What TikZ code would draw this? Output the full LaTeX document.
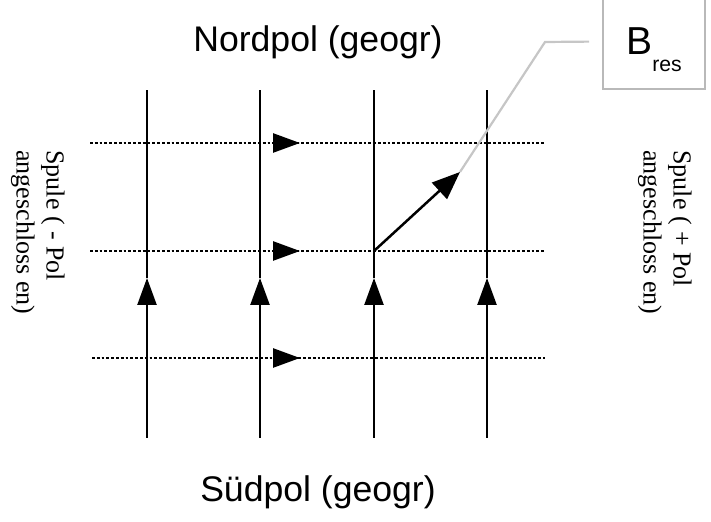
\documentclass[tikz,border=0pt]{standalone}
\usepackage{fontspec}
\setmainfont{Liberation Sans}
\newfontfamily\timesfont{Liberation Serif}
\usetikzlibrary{arrows.meta}
\begin{document}
\begin{tikzpicture}
    [x=0.5pt,y=-0.5pt,
     field/.style={line width=1.25pt},
     flux/.style={line width=1.3pt,dash pattern=on 1.4pt off 1pt},
     tip/.style={-{Triangle[length=13.5pt,width=9.5pt]}},
     pole/.style={font=\fontsize{17.8}{21}\selectfont},
     coil/.style={font=\timesfont\fontsize{13}{15}\selectfont,rotate=-90,
       align=left,anchor=north west,inner sep=0pt}]
    \useasboundingbox (0,0) rectangle (711,522);
    % pole labels
    \node (nord) at (318,42) [pole] {Nordpol (geogr)};
    \node (sued) at (318,492) [pole] {Südpol (geogr)};
    \node (minus) at (65,150) [coil] {Spule ( - Pol\\angeschloss en)};
    \node (plus) at (692,150) [coil] {Spule ( + Pol\\angeschloss en)};
    % earth field, south to north
    \coordinate (s1) at (147,438); \coordinate (m1) at (147,278); \coordinate (n1) at (147,90);
    \coordinate (s2) at (260,438); \coordinate (m2) at (260,278); \coordinate (n2) at (260,90);
    \coordinate (s3) at (374,438); \coordinate (m3) at (374,278); \coordinate (n3) at (374,90);
    \coordinate (s4) at (487,438); \coordinate (m4) at (487,278); \coordinate (n4) at (487,90);
    \draw [field,tip] (s1) to (m1); \draw [field] (m1) to (n1);
    \draw [field,tip] (s2) to (m2); \draw [field] (m2) to (n2);
    \draw [field,tip] (s3) to (m3); \draw [field] (m3) to (n3);
    \draw [field,tip] (s4) to (m4); \draw [field] (m4) to (n4);
    % coil field, minus to plus
    \coordinate (w1) at (90,143); \coordinate (a1) at (300,143); \coordinate (e1) at (545,143);
    \coordinate (w2) at (90,251); \coordinate (a2) at (300,251); \coordinate (e2) at (545,251);
    \coordinate (w3) at (92,358); \coordinate (a3) at (300,358); \coordinate (e3) at (545,358);
    \draw [flux] (w1) to (e1); \draw [flux,tip] (w1) to (a1);
    \draw [flux] (w2) to (e2); \draw [flux,tip] (w2) to (a2);
    \draw [flux] (w3) to (e3); \draw [flux,tip] (w3) to (a3);
    % resulting field
    \coordinate (origin) at (374,251);
    \coordinate (bres) at (460,172);
    \coordinate (knick) at (545,42);
    \node (label) at (654,41.5) [draw=gray!55,line width=1pt,minimum width=51pt,
      minimum height=47.5pt,font=\fontsize{19.5}{21}\selectfont]
      {B\smash{\raisebox{-8.5pt}{\fontsize{10.6}{12}\selectfont res}}};
    \draw [line width=1.25pt,-{Triangle[length=14pt,width=11pt]}] (origin) to (bres);
    \draw [gray!45,line width=1.1pt,shorten >=6.5pt] (bres) -- (knick) -- (label.west);
  \end{tikzpicture}
\end{document}
